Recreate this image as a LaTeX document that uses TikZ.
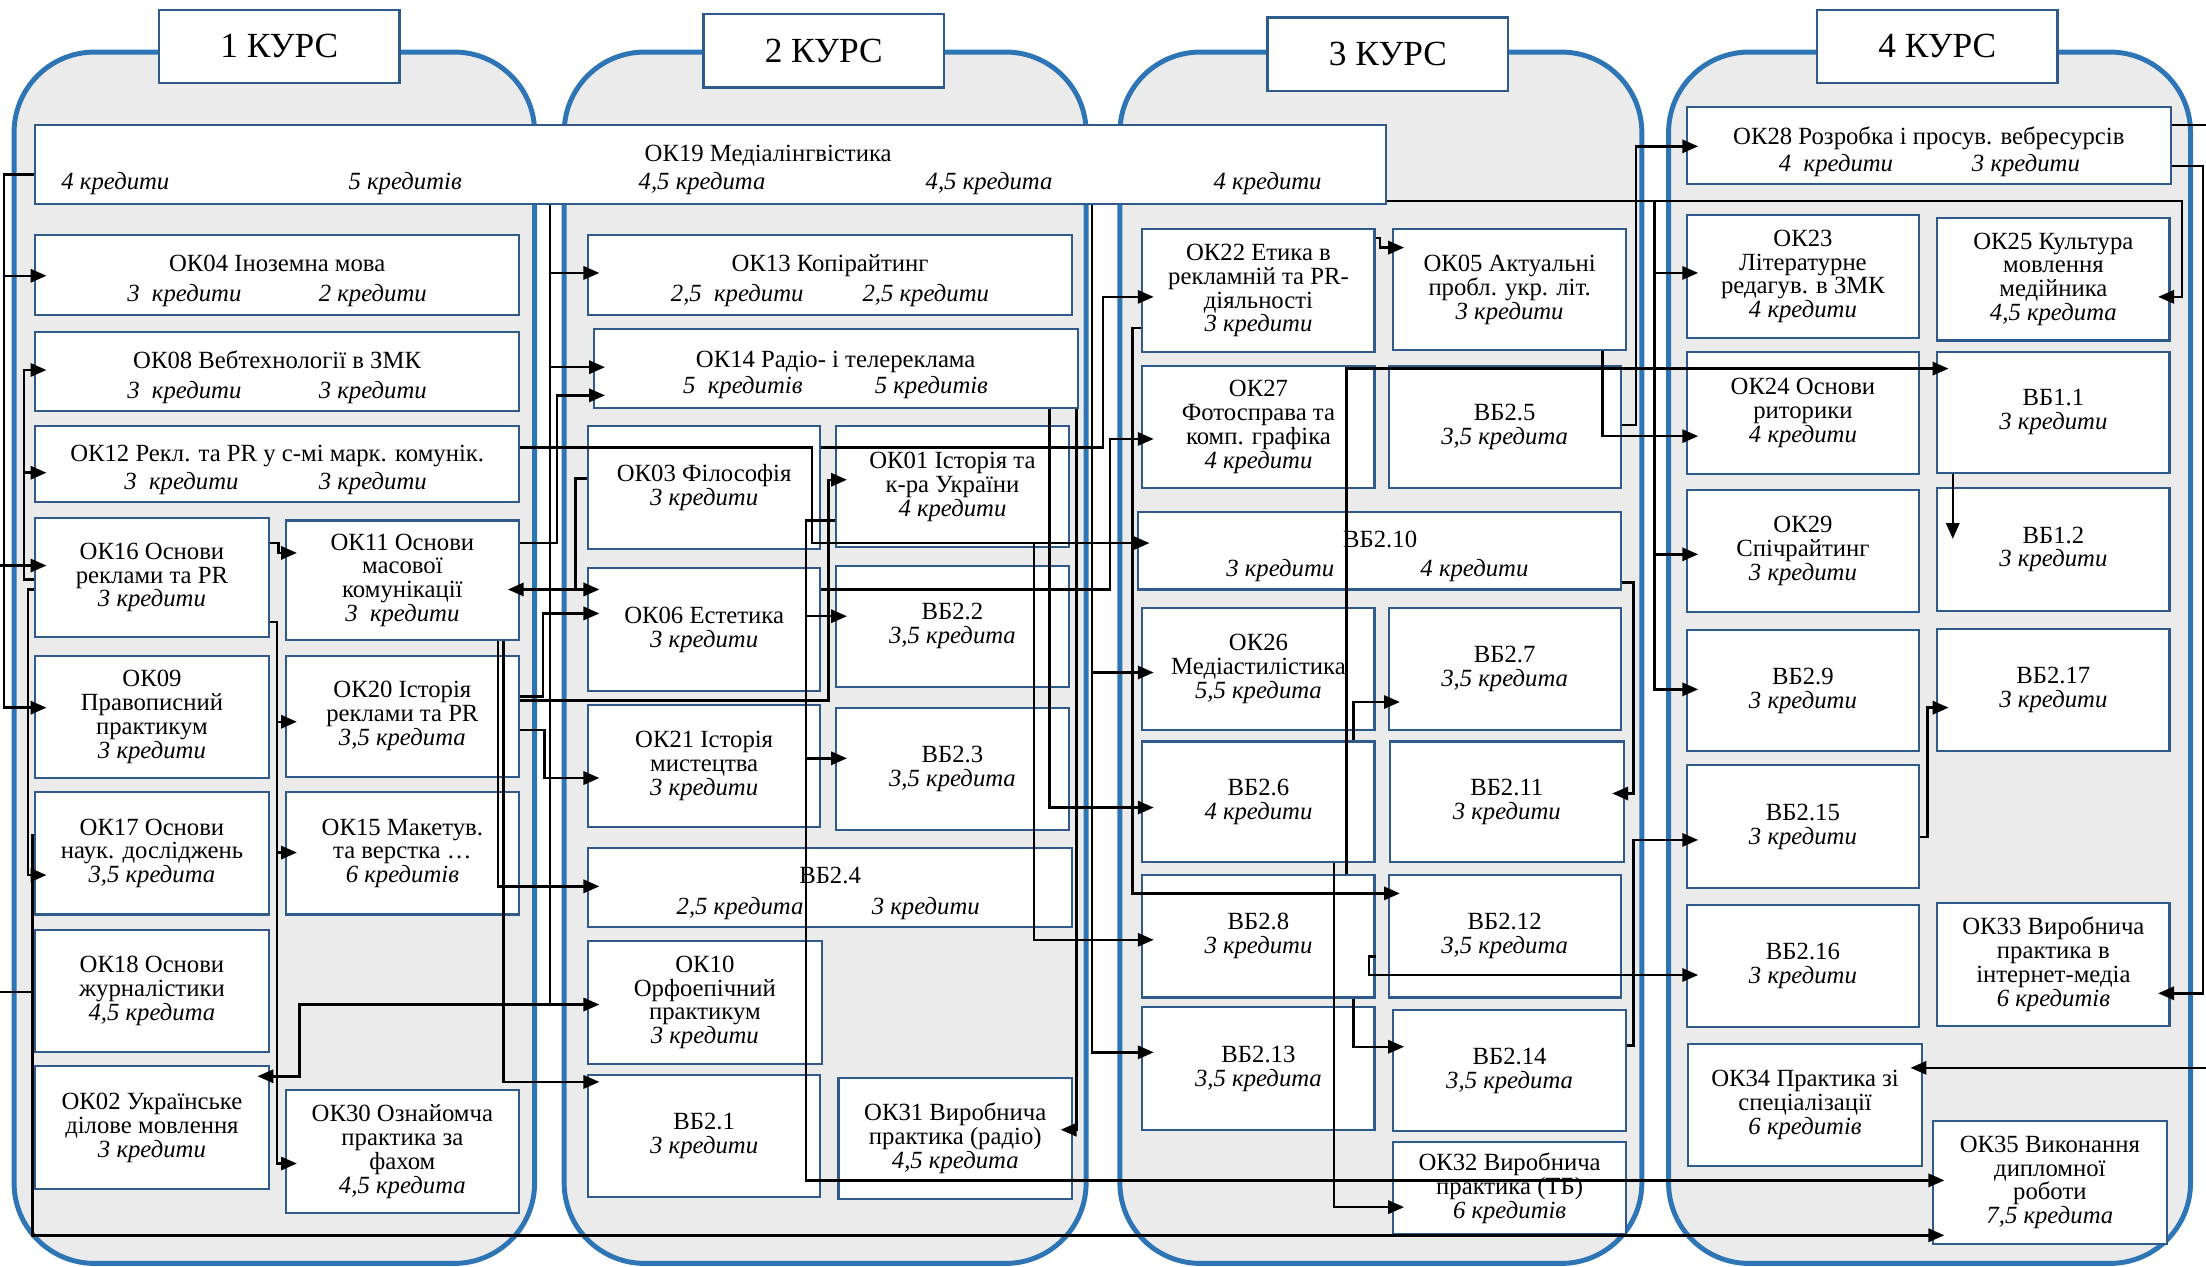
\documentclass[tikz,border=0pt]{standalone}
\usepackage{fontspec}
\setmainfont{Liberation Serif}
\usetikzlibrary{arrows.meta,calc}
\definecolor{panelblue}{HTML}{2E75B6}
\definecolor{panelgray}{HTML}{EBEBEB}
\definecolor{boxblue}{HTML}{2F5A8C}

\begin{document}
\begin{tikzpicture}[x=0.028cm,y=-0.028cm,
    panel/.style={draw=panelblue,line width=2.8pt,fill=panelgray,rounded corners=1.6cm},
    head/.style={draw=boxblue,line width=1.4pt,fill=white,inner sep=0pt,font={\fontsize{20}{22}\selectfont}},
    subj/.style={draw=boxblue,line width=1.2pt,fill=white,align=center,inner sep=0pt,font={\fontsize{14}{13.5}\selectfont}},
    lbl/.style={inner sep=0pt,anchor=base,font={\fontsize{14}{13.5}\selectfont}},
    cred/.style={lbl,font={\fontsize{14}{13.5}\selectfont\itshape}},
    link/.style={line width=1.4pt,-{Triangle[length=9pt,width=7.5pt]},shorten >=-7pt},
    wire/.style={line width=1.4pt}]
        \useasboundingbox (0,0) rectangle (1568,900);
        % courses
        \foreach \xa / \xb in {10/380,401/772,796/1167,1186/1557}
        {
            \draw[panel] (\xa,37) rectangle (\xb,898);
        }
        \foreach \nm / \cx / \cy / \txt in {h1/198.5/33/1 КУРС,h2/585.5/36/2 КУРС,h3/986.5/38.5/3 КУРС,h4/1377/33/4 КУРС}
        {
            \node[head,minimum width=4.79cm,minimum height=1.46cm] (\nm) at (\cx,\cy) {\txt};
        }
        % subjects
        \foreach \nm / \xa / \ya / \xb / \yb / \txt in {
            ok19/25/89/985/145/{},
            ok04/25/167/369/224/{},
            ok08/25/236/369/292/{},
            ok12/25/303/369/357/{},
            ok16/25/368/191/453/{ОК16 Основи\\реклами та PR\\\textit{3 кредити}},
            ok11/203/370/369/455/{ОК11 Основи\\масової\\комунікації\\\textit{3~~кредити}},
            ok09/25/466/191/553/{ОК09\\Правописний\\практикум\\\textit{3 кредити}},
            ok20/203/466/369/552/{ОК20 Історія\\реклами та PR\\\textit{3,5 кредита}},
            ok17/25/563/191/650/{ОК17 Основи\\наук. досліджень\\\textit{3,5 кредита}},
            ok15/203/563/369/650/{ОК15 Макетув.\\та верстка …\\\textit{6 кредитів}},
            ok18/25/661/191/748/{ОК18 Основи\\журналістики\\\textit{4,5 кредита}},
            ok02/25/758/191/845/{ОК02 Українське\\ділове мовлення\\\textit{3 кредити}},
            ok30/203/775/369/862/{ОК30 Ознайомча\\практика за\\фахом\\\textit{4,5 кредита}},
            ok13/418/167/762/224/{},
            ok14/422/234/766/290/{},
            ok03/418/303/583/390/{ОК03 Філософія\\\textit{3 кредити}},
            ok01/594/303/760/389/{ОК01 Історія та\\к-ра України\\\textit{4 кредити}},
            ok06/418/404/583/491/{ОК06 Естетика\\\textit{3 кредити}},
            vb22/594/402/760/488/{ВБ2.2\\\textit{3,5 кредита}},
            ok21/418/501/583/588/{ОК21 Історія\\мистецтва\\\textit{3 кредити}},
            vb23/594/503/760/590/{ВБ2.3\\\textit{3,5 кредита}},
            vb24/418/603/762/659/{},
            ok10/418/669/584/756/{ОК10\\Орфоепічний\\практикум\\\textit{3 кредити}},
            vb21/418/764/583/851/{ВБ2.1\\\textit{3 кредити}},
            ok31/596/766/762/852/{ОК31 Виробнича\\практика (радіо)\\\textit{4,5 кредита}},
            ok22/812/163/977/250/{ОК22 Етика в\\рекламній та PR-\\діяльності\\\textit{3 кредити}},
            ok05/990/163/1156/249/{ОК05 Актуальні\\пробл. укр. літ.\\\textit{3 кредити}},
            ok27/812/260/977/347/{ОК27\\Фотосправа та\\комп. графіка\\\textit{4 кредити}},
            vb25/987/260/1152/347/{ВБ2.5\\\textit{3,5 кредита}},
            vb210/809/364/1152/419/{},
            ok26/812/432/977/519/{ОК26\\Медіастилістика\\\textit{5,5 кредита}},
            vb27/987/432/1152/519/{ВБ2.7\\\textit{3,5 кредита}},
            vb26/812/527/977/613/{ВБ2.6\\\textit{4 кредити}},
            vb211/988/527/1154/613/{ВБ2.11\\\textit{3 кредити}},
            vb28/812/622/977/709/{ВБ2.8\\\textit{3 кредити}},
            vb212/987/622/1152/709/{ВБ2.12\\\textit{3,5 кредита}},
            vb213/812/716/977/803/{ВБ2.13\\\textit{3,5 кредита}},
            vb214/990/718/1156/804/{ВБ2.14\\\textit{3,5 кредита}},
            ok32/990/812/1156/877/{ОК32 Виробнича\\практика (ТБ)\\\textit{6 кредитів}},
            ok28/1199/76/1543/131/{},
            ok23/1199/153/1364/240/{ОК23\\Літературне\\редагув. в ЗМК\\\textit{4 кредити}},
            ok25/1377/155/1542/242/{ОК25 Культура\\мовлення\\медійника\\\textit{4,5 кредита}},
            ok24/1199/250/1364/337/{ОК24 Основи\\риторики\\\textit{4 кредити}},
            vb11/1377/250/1542/336/{ВБ1.1\\\textit{3 кредити}},
            ok29/1199/348/1364/435/{ОК29\\Спічрайтинг\\\textit{3 кредити}},
            vb12/1377/347/1542/434/{ВБ1.2\\\textit{3 кредити}},
            vb29/1199/448/1364/534/{ВБ2.9\\\textit{3 кредити}},
            vb217/1377/447/1542/534/{ВБ2.17\\\textit{3 кредити}},
            vb215/1199/544/1364/631/{ВБ2.15\\\textit{3 кредити}},
            vb216/1199/643/1364/730/{ВБ2.16\\\textit{3 кредити}},
            ok33/1377/642/1542/729/{ОК33 Виробнича\\практика в\\інтернет-медіа\\\textit{6 кредитів}},
            ok34/1200/742/1366/829/{ОК34 Практика зі\\спеціалізації\\\textit{6 кредитів}},
            ok35/1374/797/1540/884/{ОК35 Виконання\\дипломної\\роботи\\\textit{7,5 кредита}}}
        {
            \pgfmathsetmacro\bw{(\xb-\xa)*0.028}
            \pgfmathsetmacro\bh{(\yb-\ya)*0.028}
            \node[subj,minimum width=\bw cm,minimum height=\bh cm] (\nm) at ({(\xa+\xb)/2},{(\ya+\yb)/2}) {\txt};
        }
        % titles and credits of the wide boxes
        \foreach \nm / \lx / \ly / \txt in {ok19t/546/109/ОК19 Медіалінгвістика,ok04t/197/187/ОК04 Іноземна мова,
            ok08t/197/256/ОК08 Вебтехнології в ЗМК,ok12t/197/322/ОК12 Рекл. та PR у с-мі марк. комунік.,
            ok13t/590/187/ОК13 Копірайтинг,ok14t/594/255/ОК14 Радіо- і телереклама,vb24t/590/622/ВБ2.4,
            vb210t/981/383/ВБ2.10,ok28t/1371/97/ОК28 Розробка і просув. вебресурсів}
        {
            \node[lbl] (\nm) at (\lx,\ly+6) {\txt};
        }
        \foreach \nm / \lx / \ly / \txt in {ok19a/82/130/{4 кредити},ok19b/288/130/{5 кредитів},ok19c/499/130/{4,5 кредита},
            ok19d/703/130/{4,5 кредита},ok19e/901/130/{4 кредити},ok04a/131/209/{3~~кредити},ok04b/265/209/{2 кредити},
            ok08a/131/278/{3~~кредити},ok08b/265/278/{3 кредити},ok12a/129/343/{3~~кредити},ok12b/265/343/{3 кредити},
            ok13a/524/209/{2,5~~кредити},ok13b/658/209/{2,5 кредити},ok14a/528/275/{5~~кредитів},ok14b/662/275/{5 кредитів},
            vb24a/526/645/{2,5 кредита},vb24b/658/645/{3 кредити},vb210a/910/405/{3 кредити},vb210b/1048/405/{4 кредити},
            ok28a/1305/117/{4~~кредити},ok28b/1440/117/{3 кредити}}
        {
            \node[cred] (\nm) at (\lx,\ly+5) {\txt};
        }
        % 1 курс
        \draw[link] (ok19.west|-0,124) -- (3,124) |- (ok09.west|-0,503);
        \draw[link] (3,196) -- (ok04.west|-0,196);
        \draw[link] (0,402) -- (ok16.west|-0,402);
        \draw[link] (ok16.west|-0,412) -- (17,412) |- (ok08.west|-0,263);
        \draw[link] (17,336) -- (ok12.west|-0,336);
        \draw[link] (ok16.west|-0,419) -- (20,419) |- (ok17.west|-0,622);
        \draw[link] (ok17.west|-0,594) -- (23,594) |- (ok35.west|-0,878);
        \draw[wire] (0,705) -- (ok18.west|-0,705);
        \draw[link] (ok16.east|-0,386) -- (198,386) |- (ok11.west|-0,393);
        \draw[link] (ok16.east|-0,442) -- (197,442) |- (ok30.west|-0,827);
        \draw[link] (197,513) -- (ok20.west|-0,513);
        \draw[link] (197,606) -- (ok15.west|-0,606);
        % 1 -> 2 курс
        \draw[link] (ok19.south-|391,0) |- (ok10.west|-0,714);
        \draw[link] (391,194) -- (ok13.west|-0,194);
        \draw[link] (391,261) -- (ok14.west|-0,261);
        \draw[link] (391,714) -- (213,714) |- (ok02.east|-0,765);
        \draw[link] (ok11.east|-0,386) -- (396,386) |- (ok14.west|-0,281);
        \draw[link] (ok03.west|-0,340) -- (409,340) |- (ok06.west|-0,419);
        \draw[link] (409,419) -- (ok11.east|-0,419);
        \draw[link] (ok20.east|-0,495) -- (386,495) |- (ok06.west|-0,436);
        \draw[link] (ok20.east|-0,498) -- (589,498) |- (ok01.west|-0,341);
        \draw[link] (ok20.east|-0,519) -- (387,519) |- (ok21.west|-0,553);
        \draw[link] (ok11.south-|354,0) |- (vb24.west|-0,630);
        \draw[link] (ok11.south-|358,0) |- (vb21.west|-0,769);
        % 2 -> 3 курс
        \draw[link] (ok12.east|-0,318) -- (577,318) |- (vb210.west|-0,386);
        \draw[link] (735,386) |- (vb28.west|-0,668);
        \draw[link] (ok03.east|-0,318) -- (784,318) |- (ok22.west|-0,211);
        \draw[link] (ok01.west|-0,370) -- (573,370) |- (ok35.west|-0,839);
        \draw[link] (573,438) -- (vb22.west|-0,438);
        \draw[link] (573,539) -- (vb23.west|-0,539);
        \draw[link] (ok06.east|-0,419) -- (789,419) |- (ok27.west|-0,312);
        \draw[link] (ok14.south-|765,0) |- (ok31.east|-0,803);
        \draw[link] (ok14.south-|746,0) |- (vb26.west|-0,574);
        \draw[link] (ok19.south-|776,0) |- (vb213.west|-0,748);
        \draw[link] (776,478) -- (ok26.west|-0,478);
        % 3 -> 4 курс
        \draw[link] (ok22.west|-0,233) -- (805,233) |- (vb212.west|-0,635);
        \draw[link] (ok22.east|-0,169) -- (981,169) |- (ok05.west|-0,176);
        \draw[link] (vb28.north-|957,0) |- (vb11.west|-0,262);
        \draw[link] (vb26.north-|962,0) |- (vb27.west|-0,499);
        \draw[link] (vb26.south-|948,0) |- (ok32.west|-0,858);
        \draw[link] (vb28.south-|962,0) |- (vb214.west|-0,744);
        \draw[link] (vb210.east|-0,414) -- (1161,414) |- (vb211.east|-0,564);
        \draw[link] (vb214.east|-0,743) -- (1161,743) |- (vb215.west|-0,597);
        \draw[link] (vb28.east|-0,680) -- (973,680) |- (vb216.west|-0,693);
        \draw[link] (vb25.east|-0,302) -- (1163,302) |- (ok28.west|-0,104);
        \draw[link] (ok05.south-|1139,0) |- (ok24.west|-0,310);
        \draw[link] (ok19.east|-0,143) -- (1551,143) |- (ok25.east|-0,211);
        \draw[link] (1176,143) |- (vb29.west|-0,490);
        \draw[link] (1176,194) -- (ok23.west|-0,194);
        \draw[link] (1176,394) -- (ok29.west|-0,394);
        % 4 курс
        \draw[link] (vb11.south-|1388,0) -- ($(vb12.north-|1388,0)+(0,28)$);
        \draw[link] (vb215.east|-0,595) -- (1370,595) |- (vb217.west|-0,503);
        \draw[link] (ok28.east|-0,118) -- (1566,118) |- (ok33.east|-0,706);
        \draw[wire] (ok28.east|-0,89) -- (1568,89);
        \draw[link] (1568,759) -- (ok34.east|-0,759);
    \end{tikzpicture}
\end{document}
